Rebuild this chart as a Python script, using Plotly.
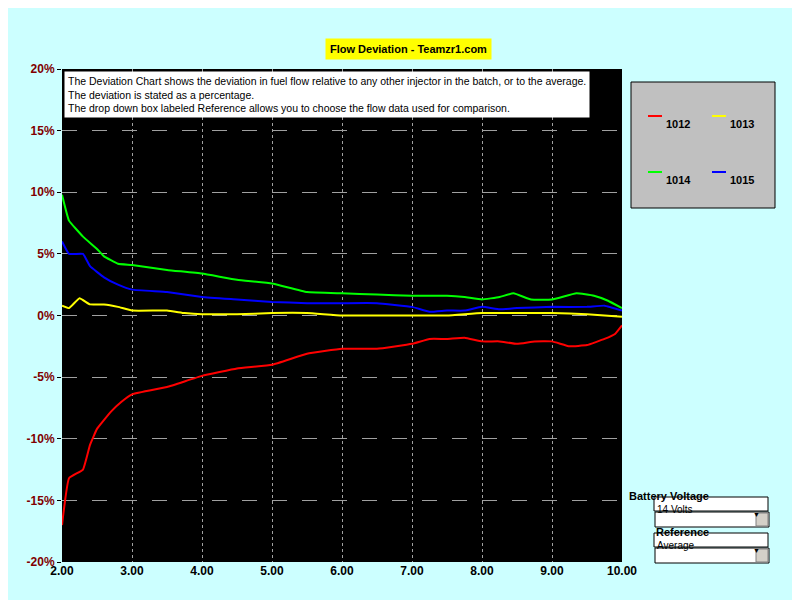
import plotly.graph_objects as go

x_1012 = [2.0, 2.1, 2.3, 2.4, 2.5, 2.7, 2.85, 3.0, 3.5, 4.0, 4.5, 5.0, 5.5, 6.0, 6.5, 7.0, 7.25, 7.5, 7.75, 8.0, 8.25, 8.5, 8.75, 9.0, 9.25, 9.5, 9.75, 9.9, 10.0]
y_1012 = [-17.0, -13.2, -12.5, -10.5, -9.2, -7.8, -7.0, -6.4, -5.8, -4.9, -4.3, -4.0, -3.1, -2.7, -2.7, -2.3, -1.9, -1.9, -1.8, -2.1, -2.1, -2.3, -2.1, -2.1, -2.5, -2.4, -1.9, -1.5, -0.8]
x_1013 = [2.0, 2.1, 2.25, 2.4, 2.6, 2.8, 3.0, 3.5, 3.75, 4.0, 4.5, 5.0, 5.5, 6.0, 7.0, 7.5, 8.0, 8.5, 9.0, 9.5, 10.0]
y_1013 = [0.8, 0.6, 1.4, 0.9, 0.9, 0.7, 0.4, 0.4, 0.2, 0.1, 0.1, 0.2, 0.2, 0.0, 0.0, 0.0, 0.2, 0.2, 0.2, 0.1, -0.1]
x_1014 = [2.0, 2.1, 2.3, 2.5, 2.6, 2.8, 3.0, 3.5, 4.0, 4.5, 5.0, 5.5, 6.0, 6.5, 7.0, 7.5, 7.75, 8.0, 8.25, 8.45, 8.7, 9.0, 9.35, 9.6, 9.8, 10.0]
y_1014 = [9.8, 7.7, 6.4, 5.4, 4.8, 4.2, 4.1, 3.7, 3.4, 2.9, 2.6, 1.9, 1.8, 1.7, 1.6, 1.6, 1.5, 1.3, 1.5, 1.8, 1.3, 1.3, 1.8, 1.6, 1.2, 0.6]
x_1015 = [2.0, 2.1, 2.3, 2.4, 2.6, 2.8, 3.0, 3.5, 4.0, 4.5, 5.0, 5.5, 6.0, 6.5, 7.0, 7.25, 7.5, 7.75, 8.0, 8.25, 8.5, 9.0, 9.5, 9.75, 10.0]
y_1015 = [6.0, 5.0, 5.0, 4.0, 3.1, 2.5, 2.1, 1.9, 1.5, 1.3, 1.1, 1.0, 1.0, 1.0, 0.7, 0.3, 0.4, 0.4, 0.7, 0.5, 0.6, 0.7, 0.7, 0.8, 0.4]

series = [("1012", x_1012, y_1012, "#FF0000"), ("1013", x_1013, y_1013, "#FFFF00"),
          ("1014", x_1014, y_1014, "#00FF00"), ("1015", x_1015, y_1015, "#0000FF")]

x_ticks = [2, 3, 4, 5, 6, 7, 8, 9, 10]
y_ticks = [-20, -15, -10, -5, 0, 5, 10, 15, 20]

fig = go.Figure()
for name, xs, ys, c in series:
    fig.add_trace(go.Scatter(x=xs, y=ys, mode="lines", name=name,
                             line=dict(color=c, width=2, shape="spline", smoothing=0.3)))

fnt = "Liberation Sans, Arial, sans-serif"
fig.update_layout(
    width=800, height=600,
    paper_bgcolor="#CCFFFF", plot_bgcolor="#000000",
    margin=dict(l=54, r=186, t=61, b=46, autoexpand=False),
    font=dict(family=fnt, size=11, color="black"),
    showlegend=False,
    xaxis=dict(range=[2, 10], tickvals=x_ticks, ticktext=[f"<b>{v:.2f}</b>" for v in x_ticks],
               showgrid=True, gridcolor="#A0A0A0", griddash="dot", gridwidth=1,
               tickfont=dict(size=12, color="black"),
               zeroline=False, showline=False, ticks=""),
    yaxis=dict(range=[-20, 20], tickvals=y_ticks, ticktext=[f"<b>{v}%</b>" for v in y_ticks],
               showgrid=True, gridcolor="#A0A0A0", griddash="longdash", gridwidth=1,
               tickfont=dict(size=12, color="#800000"), zeroline=False, ticks="outside",
               ticklen=4, tickcolor="black", showline=False),
)

def px(xp):
    return (xp - 54) / 560

def py(yp):
    return (554 - yp) / 493

fig.add_annotation(xref="paper", yref="paper", x=px(400), y=py(30),
                   text="<b>Flow Deviation - Teamzr1.com</b>", showarrow=False,
                   bgcolor="#FFFF00", font=dict(size=11, color="black"), borderpad=4)
fig.add_annotation(xref="paper", yref="paper", x=px(56), y=py(63), xanchor="left", yanchor="top",
                   align="left", showarrow=False, bgcolor="white", borderpad=3,
                   text="The Deviation Chart shows the deviation in fuel flow relative to any other injector in the batch, or to the average.<br>"
                        "The deviation is stated as a percentage.<br>"
                        "The drop down box labeled Reference allows you to choose the flow data used for comparison.",
                   font=dict(size=10.5, color="black"))

# legend box
fig.add_shape(type="rect", xref="paper", yref="paper", x0=px(623), x1=px(767), y0=py(200), y1=py(74),
              fillcolor="#C0C0C0", line=dict(color="black", width=1))
leg_pos = [(640, 108), (704, 108), (640, 164), (704, 164)]
for (name, _, _, c), (lx, ly) in zip(series, leg_pos):
    fig.add_shape(type="line", xref="paper", yref="paper", x0=px(lx), x1=px(lx + 14), y0=py(ly), y1=py(ly),
                  line=dict(color=c, width=2))
    fig.add_annotation(xref="paper", yref="paper", x=px(lx + 16), y=py(ly), xanchor="left",
                       text=f"<b>{name}</b>", showarrow=False, font=dict(size=11, color="black"))

for top, label, val in [(489, "Battery Voltage", "14 Volts"), (525, "Reference", "Average")]:
    fig.add_shape(type="rect", xref="paper", yref="paper", x0=px(646), x1=px(760),
                  y0=py(top + 14), y1=py(top), fillcolor="white", line=dict(color="black", width=1))
    fig.add_shape(type="rect", xref="paper", yref="paper", x0=px(647), x1=px(761),
                  y0=py(top + 30), y1=py(top + 15), fillcolor="white", line=dict(color="black", width=1))
    fig.add_shape(type="rect", xref="paper", yref="paper", x0=px(748), x1=px(760),
                  y0=py(top + 29), y1=py(top + 16), fillcolor="#D4D0C8", line=dict(color="#808080", width=1))
    fig.add_annotation(xref="paper", yref="paper", x=px(703), y=py(top + 7),
                       text=f"<b>{label}</b>", showarrow=False, font=dict(size=11, color="black"))
    fig.add_annotation(xref="paper", yref="paper", x=px(647), y=py(top + 20),
                       xanchor="left", text=val, showarrow=False, font=dict(size=10, color="black"))
    fig.add_annotation(xref="paper", yref="paper", x=px(754), y=py(top + 23),
                       text="▼", showarrow=False, font=dict(size=7, color="black"))

fig.write_html("out.html")
